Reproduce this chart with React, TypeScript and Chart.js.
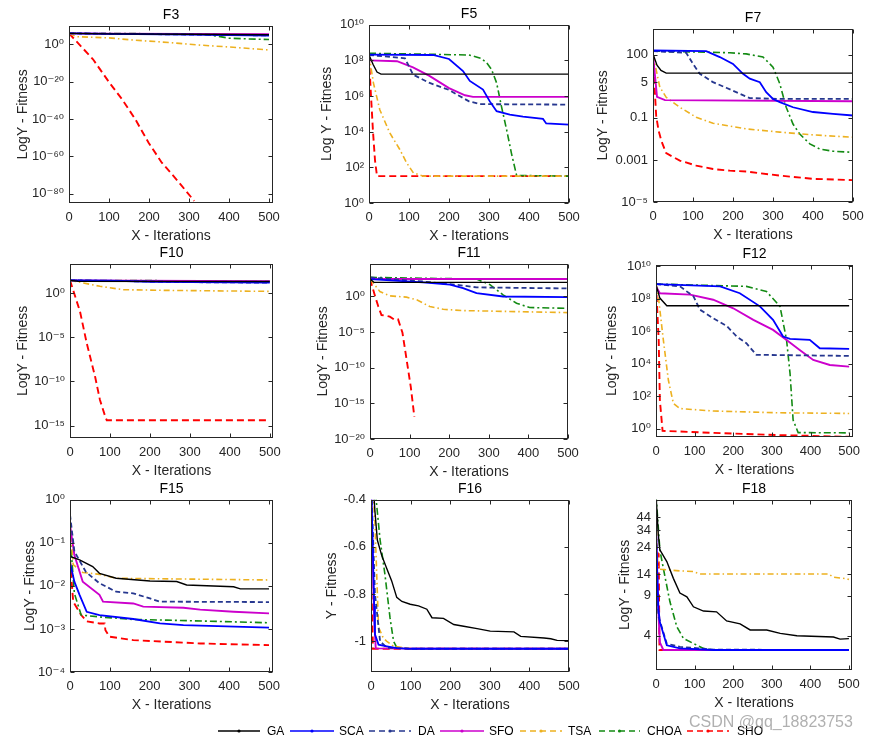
import React, { useEffect, useRef } from 'react';
import { Chart, registerables } from 'chart.js';

Chart.register(...registerables);

type Pt = [number, number];

const FONT = "'Liberation Sans', 'DejaVu Sans', Arial, sans-serif";

const ALGOS = ['GA', 'SCA', 'DA', 'SFO', 'TSA', 'CHOA', 'SHO'];
const X_TICKS = [0, 100, 200, 300, 400, 500];

// ---------------- F3 ----------------
const F3_Y_TICKS = [1e-80, 1e-60, 1e-40, 1e-20, 1];
const F3_Y_LABELS = ['10⁻⁸⁰', '10⁻⁶⁰', '10⁻⁴⁰', '10⁻²⁰', '10⁰'];
const F3_GA: Pt[] = [[0, 8e5], [100, 4e5], [300, 2.5e5], [500, 1.5e5]];
const F3_SCA: Pt[] = [[0, 8e5], [100, 4e5], [300, 1.5e5], [400, 8e4], [500, 5e4]];
const F3_DA: Pt[] = [[0, 8e5], [200, 3e5], [350, 1.5e5], [500, 6e4]];
const F3_SFO: Pt[] = [[0, 8e5], [100, 5e5], [500, 2.5e5]];
const F3_TSA: Pt[] = [[0, 5e5], [20, 1.3e4], [100, 3e3], [160, 2e2], [250, 10], [320, 0.5], [400, 4e-2], [500, 1e-3]];
const F3_CHOA: Pt[] = [[0, 8e5], [300, 4e5], [340, 2e5], [370, 3e4], [400, 2e3], [450, 8e2], [500, 4e2]];
const F3_SHO: Pt[] = [[0, 8e5], [60, 1e-8], [101, 3e-21], [133, 3e-30], [166, 6e-41], [199, 2e-53], [232, 4e-64], [272, 6e-74], [313, 1.3e-84]];

// ---------------- F5 ----------------
const F5_Y_TICKS = [1, 1e2, 1e4, 1e6, 1e8, 1e10];
const F5_Y_LABELS = ['10⁰', '10²', '10⁴', '10⁶', '10⁸', '10¹⁰'];
const F5_GA: Pt[] = [[0, 2e8], [10, 6e7], [20, 2.2e7], [30, 1.7e7], [500, 1.7e7]];
const F5_SCA: Pt[] = [[0, 2.1e8], [160, 2e8], [200, 1.2e8], [235, 2.5e7], [252, 7e6], [285, 2.3e6], [302, 5e5], [319, 1.4e5], [352, 9e4], [385, 7e4], [435, 5.2e4], [443, 2.9e4], [500, 2.5e4]];
const F5_DA: Pt[] = [[0, 2e8], [90, 1.3e8], [110, 1.6e7], [150, 5.6e6], [200, 2.2e6], [250, 5e5], [280, 3.5e5], [500, 3.3e5]];
const F5_SFO: Pt[] = [[0, 1e8], [70, 9e7], [110, 4e7], [150, 1.4e7], [200, 2.8e6], [240, 1.1e6], [260, 9e5], [500, 9e5]];
const F5_TSA: Pt[] = [[0, 2e8], [11, 5.5e6], [27, 1.7e5], [52, 8.5e3], [77, 1e3], [94, 1.8e2], [111, 49], [136, 32], [500, 32]];
const F5_CHOA: Pt[] = [[0, 2.5e8], [250, 2e8], [280, 1.3e8], [294, 7.4e7], [306, 3.2e7], [319, 5.5e6], [331, 2.7e5], [344, 1.3e4], [356, 630], [369, 35], [500, 32]];
const F5_SHO: Pt[] = [[0, 1.6e8], [5, 1e6], [10, 1e4], [15, 250], [20, 32], [500, 32]];

// ---------------- F7 ----------------
const F7_Y_TICKS = [1e-5, 1e-3, 0.1, 5, 100];
const F7_Y_LABELS = ['10⁻⁵', '0.001', '0.1', '5', '100'];
const F7_GA: Pt[] = [[0, 110], [10, 32], [20, 18], [33, 13.5], [500, 13.5]];
const F7_SCA: Pt[] = [[0, 160], [133, 150], [167, 78], [200, 37], [225, 12.5], [242, 7.3], [267, 5], [283, 1.66], [300, 0.79], [317, 0.56], [350, 0.32], [400, 0.19], [450, 0.155], [500, 0.13]];
const F7_DA: Pt[] = [[0, 150], [83, 125], [100, 37], [117, 12.5], [150, 5], [183, 2.7], [217, 1.4], [242, 0.87], [317, 0.8], [500, 0.8]];
const F7_SFO: Pt[] = [[0, 100], [5, 10], [10, 1], [30, 0.7], [500, 0.62]];
const F7_TSA: Pt[] = [[0, 100], [17, 2.9], [33, 0.95], [67, 0.32], [108, 0.107], [150, 0.056], [233, 0.03], [317, 0.021], [400, 0.0155], [500, 0.012]];
const F7_CHOA: Pt[] = [[0, 150], [192, 125], [233, 110], [275, 78], [300, 26], [317, 4.2], [333, 0.32], [350, 0.051], [367, 0.017], [392, 0.0058], [417, 0.0033], [450, 0.0026], [500, 0.0023]];
const F7_SHO: Pt[] = [[0, 100], [4, 3], [8, 0.12], [14, 0.025], [21, 0.008], [33, 0.0021], [67, 9.3e-4], [108, 5.4e-4], [150, 3.7e-4], [192, 3.1e-4], [233, 2.8e-4], [317, 1.8e-4], [400, 1.26e-4], [500, 1.1e-4]];

// ---------------- F10 ----------------
const F10_Y_TICKS = [1e-15, 1e-10, 1e-5, 1];
const F10_Y_LABELS = ['10⁻¹⁵', '10⁻¹⁰', '10⁻⁵', '10⁰'];
const F10_GA: Pt[] = [[0, 27], [20, 22], [500, 20]];
const F10_SCA: Pt[] = [[0, 27], [100, 25], [200, 19], [500, 15]];
const F10_DA: Pt[] = [[0, 27], [150, 22], [300, 17], [500, 15]];
const F10_SFO: Pt[] = [[0, 27], [500, 22]];
const F10_TSA: Pt[] = [[0, 27], [30, 15], [75, 5.8], [133, 2.4], [242, 2], [500, 1.55]];
const F10_CHOA: Pt[] = [[0, 27], [200, 26], [350, 21], [500, 20]];
const F10_SHO: Pt[] = [[0, 27], [25, 8.3e-3], [42, 2e-6], [63, 3.2e-10], [75, 7.9e-13], [87, 1.6e-14], [92, 4e-15], [500, 4e-15]];

// ---------------- F11 ----------------
const F11_Y_TICKS = [1e-20, 1e-15, 1e-10, 1e-5, 1];
const F11_Y_LABELS = ['10⁻²⁰', '10⁻¹⁵', '10⁻¹⁰', '10⁻⁵', '10⁰'];
const F11_GA: Pt[] = [[0, 280], [10, 95], [500, 95]];
const F11_SCA: Pt[] = [[0, 280], [134, 95], [202, 45], [235, 15], [269, 3], [336, 1], [500, 0.81]];
const F11_DA: Pt[] = [[0, 480], [50, 280], [134, 126], [218, 45], [269, 19], [500, 13.5]];
const F11_SFO: Pt[] = [[0, 280], [500, 280]];
const F11_TSA: Pt[] = [[0, 280], [25, 5], [50, 1.23], [92, 0.81], [118, 0.34], [151, 0.039], [185, 0.016], [235, 0.0105], [500, 0.0055]];
const F11_CHOA: Pt[] = [[0, 480], [269, 280], [303, 45], [336, 1.7], [370, 0.115], [403, 0.028], [500, 0.022]];
const F11_SHO: Pt[] = [[0, 280], [13, 1], [21, 0.039], [29, 2.5e-3], [42, 1.9e-3], [50, 1.5e-3], [63, 5e-4], [71, 6e-4], [82, 8e-6], [92, 2e-9], [103, 2e-13], [112, 1.3e-17]];

// ---------------- F12 ----------------
const F12_Y_TICKS = [1, 1e2, 1e4, 1e6, 1e8, 1e10];
const F12_Y_LABELS = ['10⁰', '10²', '10⁴', '10⁶', '10⁸', '10¹⁰'];
const F12_GA: Pt[] = [[0, 7.4e8], [10, 1.1e8], [28, 3.7e7], [500, 3.7e7]];
const F12_SCA: Pt[] = [[0, 8.1e8], [166, 5.8e8], [217, 2.2e8], [269, 3.4e7], [303, 5e6], [329, 4.7e5], [347, 3.4e5], [398, 2.9e5], [424, 8.9e4], [500, 8.1e4]];
const F12_DA: Pt[] = [[0, 8.1e8], [62, 5.8e8], [97, 1.4e8], [114, 2.1e7], [148, 6.3e6], [183, 2.1e6], [209, 4.7e5], [234, 1.8e5], [260, 3.5e4], [500, 3e4]];
const F12_SFO: Pt[] = [[0, 5.8e8], [10, 2.2e8], [88, 1.8e8], [148, 8.7e7], [200, 2.6e7], [252, 5e6], [303, 1.2e6], [338, 2.9e5], [372, 7e4], [407, 1.7e4], [450, 8.3e3], [500, 6.5e3]];
const F12_TSA: Pt[] = [[0, 8.1e8], [6, 1.4e8], [19, 2.9e5], [32, 980], [45, 35], [62, 17], [148, 12], [321, 9.3], [500, 8.5]];
const F12_CHOA: Pt[] = [[0, 8.1e8], [234, 5.8e8], [286, 2.8e8], [321, 3.4e7], [338, 2.9e5], [347, 2.5e3], [355, 3.3], [368, 0.56], [500, 0.54]];
const F12_SHO: Pt[] = [[0, 8.1e8], [7, 2.9e5], [10, 56], [17, 0.72], [148, 0.54], [321, 0.39], [500, 0.31]];

// ---------------- F15 ----------------
const F15_Y_TICKS = [1e-4, 1e-3, 1e-2, 1e-1, 1];
const F15_Y_LABELS = ['10⁻⁴', '10⁻³', '10⁻²', '10⁻¹', '10⁰'];
const F15_GA: Pt[] = [[0, 0.048], [24, 0.04], [57, 0.028], [74, 0.0195], [116, 0.015], [201, 0.013], [268, 0.0126], [293, 0.0105], [411, 0.0095], [428, 0.0085], [500, 0.0085]];
const F15_SCA: Pt[] = [[0, 0.035], [11, 0.0125], [24, 0.0062], [42, 0.0025], [74, 0.0021], [159, 0.0017], [226, 0.00134], [285, 0.00123], [500, 0.00107]];
const F15_DA: Pt[] = [[0, 0.45], [11, 0.063], [40, 0.021], [74, 0.0115], [116, 0.0073], [159, 0.0067], [201, 0.0051], [226, 0.0043], [500, 0.0042]];
const F15_SFO: Pt[] = [[0, 0.26], [11, 0.052], [32, 0.0125], [74, 0.0062], [83, 0.0043], [159, 0.0039], [184, 0.0033], [285, 0.0031], [327, 0.0028], [411, 0.0025], [500, 0.0023]];
const F15_TSA: Pt[] = [[0, 0.3], [8, 0.031], [32, 0.0205], [74, 0.0185], [116, 0.015], [500, 0.0137]];
const F15_CHOA: Pt[] = [[0, 0.15], [11, 0.0067], [28, 0.0021], [74, 0.0019], [159, 0.00166], [243, 0.0016], [500, 0.00139]];
const F15_SHO: Pt[] = [[0, 0.04], [8, 0.0043], [28, 0.0021], [42, 0.0015], [74, 0.00134], [87, 0.00134], [89, 0.00093], [99, 0.00066], [159, 0.00055], [327, 0.00046], [500, 0.00042]];

// ---------------- F16 ----------------
const F16_Y_TICKS = [-1, -0.8, -0.6, -0.4];
const F16_Y_LABELS = ['-1', '-0.8', '-0.6', '-0.4'];
const F16_GA: Pt[] = [[0, -0.2], [10, -0.45], [16, -0.571], [27, -0.636], [40, -0.693], [52, -0.743], [65, -0.814], [78, -0.831], [99, -0.843], [120, -0.85], [141, -0.864], [154, -0.9], [183, -0.903], [209, -0.929], [234, -0.936], [268, -0.946], [301, -0.957], [361, -0.96], [378, -0.979], [437, -0.986], [454, -0.989], [470, -0.996], [500, -0.997]];
const F16_SCA: Pt[] = [[0, -0.3], [8, -0.85], [10, -0.97], [19, -1.014], [40, -1.021], [65, -1.029], [100, -1.0316], [500, -1.0316]];
const F16_DA: Pt[] = [[0, -0.3], [10, -0.8], [23, -1.0], [40, -1.027], [100, -1.0316], [500, -1.0316]];
const F16_SFO: Pt[] = [[0, -0.35], [8, -0.9], [12, -1.03], [500, -1.0316]];
const F16_TSA: Pt[] = [[0, -0.2], [10, -0.5], [19, -0.94], [31, -0.986], [40, -1.0], [57, -1.021], [100, -1.0316], [500, -1.0316]];
const F16_CHOA: Pt[] = [[0, 0.2], [13, -0.4], [23, -0.571], [35, -0.714], [48, -0.9], [57, -1.0], [65, -1.026], [100, -1.0316], [500, -1.0316]];
const F16_SHO: Pt[] = [[0, -0.7], [5, -1.0316], [500, -1.0316]];

// ---------------- F18 ----------------
const F18_Y_TICKS = [4, 9, 14, 24, 34, 44];
const F18_Y_LABELS = ['4', '9', '14', '24', '34', '44'];
const F18_GA: Pt[] = [[0, 70], [6, 31], [10, 22.8], [28, 18], [45, 12.8], [62, 9.5], [80, 8.8], [97, 7.2], [123, 6.6], [157, 6.5], [183, 5.4], [218, 5.1], [244, 4.5], [287, 4.5], [322, 4.2], [365, 4.0], [460, 3.9], [477, 3.74], [500, 3.78]];
const F18_SCA: Pt[] = [[0, 35], [6, 7], [10, 5.3], [28, 3.3], [62, 3.1], [150, 3.0], [500, 3.0]];
const F18_DA: Pt[] = [[0, 35], [6, 6], [28, 3.4], [62, 3.2], [150, 3.02], [500, 3.0]];
const F18_SFO: Pt[] = [[0, 35], [3, 13.7], [7, 5.7], [10, 3.5], [19, 3.0], [500, 3.0]];
const F18_TSA: Pt[] = [[0, 45], [5, 16], [10, 15.4], [62, 14.9], [97, 14.7], [114, 14], [447, 14], [460, 13.1], [495, 12.7], [500, 12.5]];
const F18_CHOA: Pt[] = [[0, 70], [10, 22.8], [19, 15.7], [36, 8], [54, 4.8], [71, 3.8], [97, 3.42], [123, 3.1], [149, 3.0], [500, 3.0]];
const F18_SHO: Pt[] = [[0, 22], [7, 21], [9, 3.0], [500, 3.0]];

// ---------------- styles & layout ----------------
const STYLES = [
  { color: '#000000', dash: [] as number[], width: 1.4 },
  { color: '#0000FF', dash: [] as number[], width: 1.8 },
  { color: '#26378F', dash: [5, 3], width: 1.8 },
  { color: '#CC00CC', dash: [] as number[], width: 1.9 },
  { color: '#EDB120', dash: [6, 3, 1.5, 3], width: 1.6 },
  { color: '#138A13', dash: [7, 3, 2, 3], width: 1.6 },
  { color: '#FF0000', dash: [7, 4], width: 1.9 },
];

const Y_AXIS_W = 62;
const X_AXIS_H = 46;
const TITLE_H = 24;
const PAD_R = 20;

type PanelCfg = {
  title: string; yTitle: string; yType: 'logarithmic' | 'linear';
  yMin: number; yMax: number; yTicks: number[]; yLabels: string[];
  xMax: number; series: Pt[][];
  box: { l: number; t: number; r: number; b: number }; yTitleDist: number;
};

const PANELS: PanelCfg[] = [
  { title: 'F3', yTitle: 'LogY - Fitness', yType: 'logarithmic', yMin: 1e-85, yMax: 1e10, yTicks: F3_Y_TICKS, yLabels: F3_Y_LABELS, xMax: 510,
    series: [F3_GA, F3_SCA, F3_DA, F3_SFO, F3_TSA, F3_CHOA, F3_SHO], box: { l: 69, t: 26, r: 273, b: 203 }, yTitleDist: 46 },
  { title: 'F5', yTitle: 'Log Y - Fitness', yType: 'logarithmic', yMin: 1, yMax: 1e10, yTicks: F5_Y_TICKS, yLabels: F5_Y_LABELS, xMax: 500,
    series: [F5_GA, F5_SCA, F5_DA, F5_SFO, F5_TSA, F5_CHOA, F5_SHO], box: { l: 369, t: 25, r: 569, b: 203 }, yTitleDist: 42 },
  { title: 'F7', yTitle: 'LogY - Fitness', yType: 'logarithmic', yMin: 1e-5, yMax: 1740, yTicks: F7_Y_TICKS, yLabels: F7_Y_LABELS, xMax: 500,
    series: [F7_GA, F7_SCA, F7_DA, F7_SFO, F7_TSA, F7_CHOA, F7_SHO], box: { l: 653, t: 29, r: 853, b: 202 }, yTitleDist: 50 },
  { title: 'F10', yTitle: 'LogY - Fitness', yType: 'logarithmic', yMin: 4e-17, yMax: 2090, yTicks: F10_Y_TICKS, yLabels: F10_Y_LABELS, xMax: 508,
    series: [F10_GA, F10_SCA, F10_DA, F10_SFO, F10_TSA, F10_CHOA, F10_SHO], box: { l: 70, t: 264, r: 273, b: 438 }, yTitleDist: 47 },
  { title: 'F11', yTitle: 'LogY - Fitness', yType: 'logarithmic', yMin: 1e-20, yMax: 4e4, yTicks: F11_Y_TICKS, yLabels: F11_Y_LABELS, xMax: 500,
    series: [F11_GA, F11_SCA, F11_DA, F11_SFO, F11_TSA, F11_CHOA, F11_SHO], box: { l: 370, t: 264, r: 568, b: 439 }, yTitleDist: 47 },
  { title: 'F12', yTitle: 'LogY - Fitness', yType: 'logarithmic', yMin: 0.3, yMax: 1.26e10, yTicks: F12_Y_TICKS, yLabels: F12_Y_LABELS, xMax: 510,
    series: [F12_GA, F12_SCA, F12_DA, F12_SFO, F12_TSA, F12_CHOA, F12_SHO], box: { l: 656, t: 265, r: 853, b: 437 }, yTitleDist: 44 },
  { title: 'F15', yTitle: 'LogY - Fitness', yType: 'logarithmic', yMin: 1e-4, yMax: 1, yTicks: F15_Y_TICKS, yLabels: F15_Y_LABELS, xMax: 510,
    series: [F15_GA, F15_SCA, F15_DA, F15_SFO, F15_TSA, F15_CHOA, F15_SHO], box: { l: 70, t: 500, r: 273, b: 672 }, yTitleDist: 40 },
  { title: 'F16', yTitle: 'Y - Fitness', yType: 'linear', yMin: -1.13, yMax: -0.4, yTicks: F16_Y_TICKS, yLabels: F16_Y_LABELS, xMax: 500,
    series: [F16_GA, F16_SCA, F16_DA, F16_SFO, F16_TSA, F16_CHOA, F16_SHO], box: { l: 371, t: 500, r: 569, b: 672 }, yTitleDist: 39 },
  { title: 'F18', yTitle: 'LogY - Fitness', yType: 'logarithmic', yMin: 2, yMax: 63, yTicks: F18_Y_TICKS, yLabels: F18_Y_LABELS, xMax: 508,
    series: [F18_GA, F18_SCA, F18_DA, F18_SFO, F18_TSA, F18_CHOA, F18_SHO], box: { l: 656, t: 500, r: 852, b: 670 }, yTitleDist: 31 },
];

const AXIS_COLOR = '#262626';

const framePlugin = {
  id: 'frame',
  afterDatasetsDraw(chart: any) {
    const { ctx, chartArea: a, scales } = chart;
    ctx.save();
    ctx.strokeStyle = AXIS_COLOR;
    ctx.lineWidth = 1;
    const l = Math.round(a.left) + 0.5;
    const r = Math.round(a.right) - 0.5;
    const t = Math.round(a.top) + 0.5;
    const b = Math.round(a.bottom) - 0.5;
    ctx.setLineDash([]);
    ctx.strokeRect(l, t, r - l, b - t);
    const TL = 4;
    ctx.beginPath();
    for (const tk of scales.x.ticks) {
      const px = Math.round(scales.x.getPixelForValue(tk.value)) + 0.5;
      ctx.moveTo(px, b); ctx.lineTo(px, b - TL);
      ctx.moveTo(px, t); ctx.lineTo(px, t + TL);
    }
    for (const tk of scales.y.ticks) {
      const py = Math.round(scales.y.getPixelForValue(tk.value)) + 0.5;
      ctx.moveTo(l, py); ctx.lineTo(l + TL, py);
      ctx.moveTo(r, py); ctx.lineTo(r - TL, py);
    }
    ctx.stroke();
    ctx.restore();
  },
};

function Panel({ cfg }: { cfg: PanelCfg }) {
  const ref = useRef<HTMLCanvasElement>(null);
  const { l, t, r, b } = cfg.box;
  const width = r - l + Y_AXIS_W + PAD_R;
  const height = b - t + TITLE_H + X_AXIS_H;

  useEffect(() => {
    if (!ref.current) return;
    const datasets = cfg.series.map((s, i) => ({
      label: ALGOS[i],
      data: s.map(([x, y]) => ({ x, y })),
      borderColor: STYLES[i].color,
      backgroundColor: STYLES[i].color,
      borderWidth: STYLES[i].width,
      borderDash: STYLES[i].dash,
      pointRadius: 0,
      tension: 0,
      fill: false,
    }));
    const chart = new Chart(ref.current, {
      type: 'line',
      data: { datasets },
      options: {
        animation: false,
        responsive: false,
        events: [],
        layout: { padding: { left: 0, top: 0, right: PAD_R, bottom: 0 } },
        plugins: {
          legend: { display: false },
          tooltip: { enabled: false },
          title: {
            display: true, text: cfg.title, fullSize: false, color: '#000',
            font: { size: 14, family: FONT, weight: 'normal', lineHeight: 1.2 },
            padding: { top: 5.1, bottom: 1.8 },
          },
        },
        scales: {
          x: {
            type: 'linear', position: 'bottom', min: 0, max: cfg.xMax,
            grid: { display: false, drawTicks: false, tickLength: 0 }, border: { display: false },
            afterBuildTicks: (s: any) => { s.ticks = X_TICKS.map((v) => ({ value: v })); },
            afterFit: (s: any) => { s.height = X_AXIS_H; },
            ticks: {
              autoSkip: false, maxRotation: 0, padding: 7, color: AXIS_COLOR,
              font: { size: 13, family: FONT }, callback: (v: any) => String(v),
            },
            title: {
              display: true, text: 'X - Iterations', color: AXIS_COLOR,
              font: { size: 14, family: FONT }, padding: { top: 0, bottom: 4.6 },
            },
          },
          y: {
            type: cfg.yType, position: 'left', min: cfg.yMin, max: cfg.yMax,
            grid: { display: false, drawTicks: false, tickLength: 0 }, border: { display: false },
            afterBuildTicks: (s: any) => { s.ticks = cfg.yTicks.map((v) => ({ value: v })); },
            afterFit: (s: any) => { s.width = Y_AXIS_W; },
            ticks: {
              autoSkip: false, padding: 5, color: AXIS_COLOR,
              font: { size: 13, family: FONT },
              callback: (_v: any, i: number) => cfg.yLabels[i],
            },
            title: {
              display: true, text: cfg.yTitle, color: AXIS_COLOR,
              font: { size: 14, family: FONT },
              padding: { top: 53.6 - cfg.yTitleDist, bottom: 0 },
            },
          },
        },
      } as any,
      plugins: [framePlugin],
    });
    return () => chart.destroy();
  }, []);

  return (
    <div style={{ position: 'absolute', left: l - Y_AXIS_W, top: t - TITLE_H, width, height }}>
      <canvas ref={ref} width={width} height={height} style={{ display: 'block' }} />
    </div>
  );
}

const LEGEND_POS = [
  { x1: 218, x2: 260, tx: 267 },
  { x1: 290, x2: 334, tx: 339 },
  { x1: 369, x2: 411, tx: 418 },
  { x1: 440, x2: 484, tx: 489 },
  { x1: 520, x2: 562, tx: 568 },
  { x1: 599, x2: 640, tx: 647 },
  { x1: 687, x2: 729, tx: 737 },
];
const LEGEND_Y = 731;

function Legend() {
  return (
    <>
      <svg width={873} height={20} style={{ position: 'absolute', left: 0, top: LEGEND_Y - 10 }}>
        {LEGEND_POS.map((p, i) => (
          <g key={i}>
            <line x1={p.x1} x2={p.x2} y1={10} y2={10} stroke={STYLES[i].color}
              strokeWidth={1.5} strokeDasharray={STYLES[i].dash.length ? '6 4' : undefined} />
            <circle cx={(p.x1 + p.x2) / 2} cy={10} r={1.6} fill={STYLES[i].color} />
          </g>
        ))}
      </svg>
      {LEGEND_POS.map((p, i) => (
        <span key={ALGOS[i]} style={{
          position: 'absolute', left: p.tx, top: LEGEND_Y - 8, fontFamily: FONT, fontSize: 12,
          lineHeight: '16px', color: '#000', whiteSpace: 'nowrap',
        }}>{ALGOS[i]}</span>
      ))}
    </>
  );
}

export default function App() {
  return (
    <div style={{ position: 'absolute', left: 0, top: 0, width: 873, height: 743, background: '#fff', overflow: 'hidden' }}>
      {PANELS.map((p) => <Panel key={p.title} cfg={p} />)}
      <Legend />
      <span style={{
        position: 'absolute', left: 689, top: 713, fontFamily: FONT, fontSize: 16, lineHeight: '18px',
        color: 'rgba(150,150,150,0.75)', whiteSpace: 'nowrap',
      }}>CSDN @qq_18823753</span>
    </div>
  );
}
